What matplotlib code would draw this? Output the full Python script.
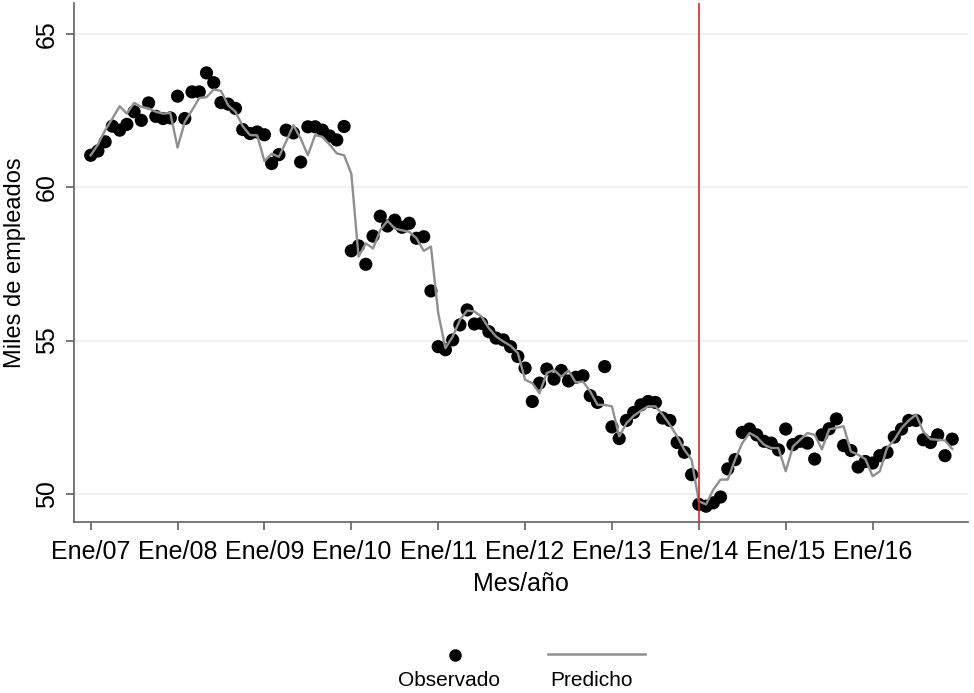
import numpy as np
import matplotlib
matplotlib.use('Agg')
import matplotlib.pyplot as plt
from matplotlib.lines import Line2D

plt.rcParams['font.family'] = ['Liberation Sans', 'DejaVu Sans']

# Serie mensual Ene/2007 - Dic/2016 (miles de empleados)
observado = [
    61.05, 61.19, 61.49, 62.00, 61.87, 62.06, 62.47, 62.19, 62.76, 62.32, 62.25, 62.27,
    62.98, 62.25, 63.12, 63.12, 63.74, 63.42, 62.77, 62.72, 62.58, 61.89, 61.76, 61.81,
    61.72, 60.78, 61.07, 61.87, 61.78, 60.83, 61.98, 61.98, 61.87, 61.68, 61.55, 61.99,
    57.93, 58.09, 57.49, 58.41, 59.06, 58.74, 58.93, 58.70, 58.83, 58.34, 58.39, 56.62,
    54.80, 54.70, 55.02, 55.51, 56.00, 55.54, 55.56, 55.29, 55.08, 55.02, 54.80, 54.48,
    54.10, 53.01, 53.61, 54.07, 53.74, 54.02, 53.68, 53.80, 53.85, 53.20, 52.98, 54.15,
    52.18, 51.80, 52.39, 52.65, 52.90, 53.01, 52.98, 52.47, 52.39, 51.67, 51.35, 50.62,
    49.65, 49.59, 49.70, 49.89, 50.81, 51.11, 52.00, 52.11, 51.92, 51.71, 51.65, 51.43,
    52.11, 51.60, 51.71, 51.65, 51.13, 51.92, 52.12, 52.44, 51.57, 51.41, 50.87, 51.05,
    51.00, 51.24, 51.35, 51.85, 52.11, 52.39, 52.39, 51.76, 51.67, 51.92, 51.24, 51.78,
]
predicho = [
    61.05, 61.40, 61.87, 62.25, 62.65, 62.41, 62.76, 62.63, 62.58, 62.47, 62.41, 62.43,
    61.30, 62.14, 62.52, 62.92, 62.95, 63.20, 63.15, 62.68, 62.47, 62.00, 61.71, 61.70,
    60.86, 61.10, 61.00, 61.50, 62.03, 61.60, 61.05, 61.71, 61.65, 61.40, 61.11, 61.05,
    60.45, 57.74, 58.17, 58.01, 58.61, 58.91, 58.66, 58.60, 58.55, 58.34, 57.93, 58.07,
    55.90, 54.75, 55.13, 55.67, 55.98, 55.95, 55.78, 55.40, 55.13, 54.97, 54.83, 54.59,
    53.72, 53.61, 53.28, 53.94, 54.04, 53.82, 54.02, 53.63, 53.66, 53.34, 52.90, 52.90,
    52.85, 51.87, 52.30, 52.54, 52.71, 52.85, 52.85, 52.58, 52.25, 51.87, 51.43, 51.11,
    49.75, 49.65, 50.13, 50.46, 50.46, 51.11, 51.65, 51.98, 51.85, 51.60, 51.49, 51.49,
    50.73, 51.54, 51.76, 51.98, 51.92, 51.45, 52.10, 52.15, 52.20, 51.38, 51.27, 51.13,
    50.57, 50.73, 51.49, 51.76, 52.14, 52.39, 52.58, 52.03, 51.78, 51.76, 51.74, 51.46,
]
etiquetas_x = ['Ene/07', 'Ene/08', 'Ene/09', 'Ene/10', 'Ene/11',
               'Ene/12', 'Ene/13', 'Ene/14', 'Ene/15', 'Ene/16']
ticks_y = [50, 55, 60, 65]
corte = 84  # Ene/14

meses = np.arange(len(observado))

fig = plt.figure(figsize=(9.74, 6.93), dpi=100)
ax = fig.add_axes([0.076, 0.247, 0.918, 0.749])

# grilla horizontal
for v in ticks_y:
    ax.axhline(v, color='#eaf2f3', lw=1.5, zorder=0)

ax.plot(meses, predicho, color='#8f8f8f', lw=1.7, zorder=3)
ax.scatter(meses, observado, s=90, color='black', zorder=2, edgecolors='none')
ax.axvline(corte, color='#e3242b', lw=1.2, zorder=4)

ax.set_xlim(-2.3, 121.2)
ax.set_ylim(49.08, 66.03)
ax.set_xticks(np.arange(0, 120, 12))
ax.set_xticklabels(etiquetas_x)
ax.set_yticks(ticks_y)
ax.set_yticklabels([str(v) for v in ticks_y], rotation=90, va='center')

for s in ['top', 'right']:
    ax.spines[s].set_visible(False)
for s in ['left', 'bottom']:
    ax.spines[s].set_color('#606060')
    ax.spines[s].set_linewidth(1.2)

ax.tick_params(axis='both', length=6, width=1.2, color='#606060', labelsize=18)
ax.tick_params(axis='x', pad=7)
ax.tick_params(axis='y', pad=5)

ax.set_xlabel('Mes/año', fontsize=18, labelpad=6)
ax.set_ylabel('Miles de empleados', fontsize=17, labelpad=6)

# leyenda debajo (marcador sobre el texto)
fig.add_artist(Line2D([455 / 974], [1 - 655 / 693], marker='o', color='black',
                      markersize=8, linestyle='none', transform=fig.transFigure))
fig.add_artist(Line2D([548 / 974, 645 / 974], [1 - 654 / 693, 1 - 654 / 693],
                      color='#8f8f8f', lw=1.8, transform=fig.transFigure))
fig.text(449 / 974, 1 - 681 / 693, 'Observado', ha='center', va='center', fontsize=15)
fig.text(591 / 974, 1 - 681 / 693, 'Predicho', ha='center', va='center', fontsize=15)

fig.savefig('out.png', dpi=100, facecolor='white')
